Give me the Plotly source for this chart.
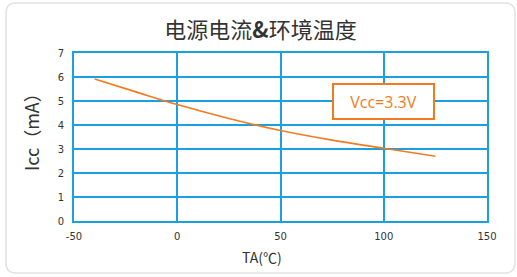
import plotly.graph_objects as go

temps = [-40, -20, 0, 25, 50, 75, 100, 125]
icc = [5.92, 5.38, 4.85, 4.27, 3.77, 3.37, 3.03, 2.70]
x_ticks = [-50, 0, 50, 100, 150]
x_tick_text = ["-50", "0", "50", "100", "150"]
y_ticks = [0, 1, 2, 3, 4, 5, 6, 7]

W, H = 517, 277
L, R, T, B = 74, 30, 53, 56
pw, ph = W - L - R, H - T - B

def px(x):
    return (x - L) / pw

def py(y):
    return (H - B - y) / ph

blue = "#1aa0e0"
orange = "#f47a20"
text_col = "#333333"

fig = go.Figure()
fig.add_trace(go.Scatter(x=temps, y=icc, mode="lines", line=dict(color=orange, width=1.6, shape="spline"),
                         showlegend=False, hoverinfo="skip"))

# card outline
x0, x1, y0, y1 = 6, 515, 3, 273
r = 10
rx, ry = r / pw, r / ph
path = (f"M {px(x0)+rx} {py(y0)} L {px(x1)-rx} {py(y0)} Q {px(x1)} {py(y0)} {px(x1)} {py(y0)-ry} "
        f"L {px(x1)} {py(y1)+ry} Q {px(x1)} {py(y1)} {px(x1)-rx} {py(y1)} "
        f"L {px(x0)+rx} {py(y1)} Q {px(x0)} {py(y1)} {px(x0)} {py(y1)+ry} "
        f"L {px(x0)} {py(y0)-ry} Q {px(x0)} {py(y0)} {px(x0)+rx} {py(y0)} Z")
fig.add_shape(type="path", path=path, xref="paper", yref="paper", line=dict(color="#e2e2e2", width=1.5), layer="below")

fig.add_annotation(x=100, y=5, xref="x", yref="y", text="Vcc=3.3V", showarrow=False,
                   font=dict(family="Open Sans, Noto Sans", size=16, color=orange),
                   bordercolor=orange, borderwidth=2, borderpad=2, bgcolor="white", width=95, height=29)

# y-axis title
fig.add_annotation(x=px(31), y=py(128), xref="paper", yref="paper", text="Icc（mA）", showarrow=False,
                   textangle=-90, xanchor="center", yanchor="middle",
                   font=dict(family="Noto Sans CJK SC", size=18, color=text_col))

# x-axis title
fig.add_annotation(x=px(261.5), y=py(257), xref="paper", yref="paper", text="TA(℃)", showarrow=False,
                   xanchor="center", yanchor="middle",
                   font=dict(family="Noto Sans CJK SC", size=14, color=text_col))

fig.update_layout(
    width=W, height=H, margin=dict(l=L, r=R, t=T, b=B),
    paper_bgcolor="white", plot_bgcolor="white",
    title=dict(text="电源电流<b>&</b>环境温度", x=260.5 / W, xanchor="center", y=1 - 30 / H, yanchor="middle",
               font=dict(family="Noto Sans CJK SC", size=22, color=text_col)),
    xaxis=dict(range=[-50, 150], tickvals=x_ticks, ticktext=x_tick_text, showgrid=True, gridcolor=blue, gridwidth=2,
               showline=True, mirror=True, linecolor=blue, linewidth=2, zeroline=False,
               tickfont=dict(family="DejaVu Sans", size=10, color=text_col), ticks="", ticklabelstandoff=5),
    yaxis=dict(range=[0, 7], tickvals=y_ticks, showgrid=True, gridcolor=blue, gridwidth=2,
               showline=True, mirror=True, linecolor=blue, linewidth=2, zeroline=False,
               tickfont=dict(family="DejaVu Sans", size=10, color=text_col), ticks="", ticklabelstandoff=6),
)

fig.write_html("out.html", post_script="document.body.style.margin='0';",
               config={"displayModeBar": False})
